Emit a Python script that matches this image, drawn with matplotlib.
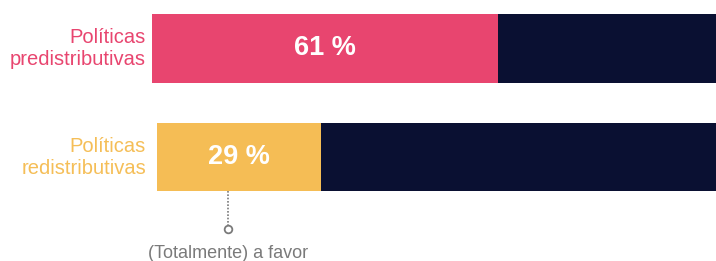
import matplotlib

matplotlib.use("Agg")
import matplotlib.pyplot as plt

# --- data -----------------------------------------------------------------
categories = ["Políticas\npredistributivas", "Políticas\nredistributivas"]
favor = [61, 29]
rest = [100 - v for v in favor]
favor_labels = ["61 %", "29 %"]
annotation_text = "(Totalmente) a favor"
annotation_x = 12.6  # percent along the lower bar

# --- style ----------------------------------------------------------------
PINK = "#e8456f"
YELLOW = "#f5bd55"
NAVY = "#0a1032"
GREY = "#7a7a7a"
colors = [PINK, YELLOW]
label_colors = [PINK, "#f5be57"]

W, H = 716, 261
LABEL_RIGHT = 146  # px, right edge of category labels
# per-row bar box in pixels: left, top, width, height
row_boxes = [(152, 14, 567, 68.5), (157, 123, 564, 68.3)]

plt.rcParams["font.family"] = ["Liberation Sans", "DejaVu Sans"]

fig = plt.figure(figsize=(W / 100, H / 100), dpi=100)
fig.patch.set_facecolor("white")

axes = []
for i, (left, top, width, height) in enumerate(row_boxes):
    ax = fig.add_axes([left / W, (H - top - height) / H, width / W, height / H])
    ax.barh(0, favor[i], height=1, color=colors[i], linewidth=0)
    ax.barh(0, rest[i], left=favor[i], height=1, color=NAVY, linewidth=0)
    ax.set_xlim(0, 100)
    ax.set_ylim(-0.5, 0.5)
    ax.axis("off")

    ax.text(favor[i] / 2, 0, favor_labels[i], color="white", fontsize=19.5,
            weight="bold", ha="center", va="center")
    # category label to the left of the bar, right edges aligned
    ax.text((LABEL_RIGHT - left) / width * 100, 0, categories[i],
            color=label_colors[i], fontsize=14.5, ha="right", va="center",
            linespacing=1.2, clip_on=False)
    axes.append(ax)

# annotation hanging from the lower bar
ax = axes[1]
px = 1 / row_boxes[1][3]  # one pixel in y data units
ax.plot([annotation_x, annotation_x], [-0.5, -0.5 - 35 * px], color=GREY,
        linestyle=(0, (1, 1)), linewidth=1.2, clip_on=False)
ax.plot(annotation_x, -0.5 - 38 * px, marker="o", markersize=5.5,
        markerfacecolor="white", markeredgecolor=GREY, markeredgewidth=1.3,
        clip_on=False)
ax.text(annotation_x, -0.5 - 62 * px, annotation_text, color=GREY,
        fontsize=13, ha="center", va="center", clip_on=False)

fig.savefig("out.png", dpi=100, facecolor="white")
